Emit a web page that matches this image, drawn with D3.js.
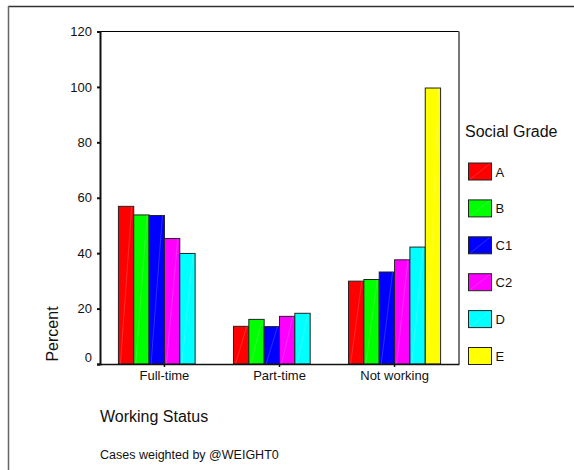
<!DOCTYPE html>
<html>
<head>
<meta charset="utf-8">
<script src="https://cdn.jsdelivr.net/npm/d3@7/dist/d3.min.js"></script>
<style>
  html, body { margin: 0; padding: 0; background: #fff; }
  svg { display: block; }
  text { font-family: Arial, "Liberation Sans", sans-serif; fill: #111; }
</style>
</head>
<body>
<script>
// Working status by social grade (column percentages)
const categories = ["Full-time", "Part-time", "Not working"];
const grades = ["A", "B", "C1", "C2", "D", "E"];
const gradeColors = ["#ff0000", "#00ff00", "#0000ff", "#ff00ff", "#00ffff", "#ffff00"];
const valuesA  = [56.9, 13.6, 29.9];
const valuesB  = [53.8, 16.1, 30.5];
const valuesC1 = [53.6, 13.5, 33.2];
const valuesC2 = [45.3, 17.2, 37.6];
const valuesD  = [39.9, 18.3, 42.2];
const valuesE  = [0, 0, 99.6];
const yTicks = [0, 20, 40, 60, 80, 100, 120];

const seriesValues = [valuesA, valuesB, valuesC1, valuesC2, valuesD, valuesE];
const rows = [];
categories.forEach((c, ci) => {
  grades.forEach((g, gi) => rows.push({ cat: c, grade: g, value: seriesValues[gi][ci], color: gradeColors[gi] }));
});

const W = 574, H = 470;
const plot = { left: 100, right: 459, top: 31.5, bottom: 364 };

const svg = d3.select("body").append("svg").attr("width", W).attr("height", H);

// outer frame: top and left edges only
svg.append("line").attr("x1", 8).attr("x2", W).attr("y1", 6.5).attr("y2", 6.5)
  .attr("stroke", "#333").attr("stroke-width", 1.5);
svg.append("line").attr("x1", 8.5).attr("x2", 8.5).attr("y1", 6).attr("y2", H)
  .attr("stroke", "#666").attr("stroke-width", 1.5);

const x = d3.scaleBand().domain(categories).range([plot.left, plot.right])
  .paddingInner(0.2).paddingOuter(0.16);
const xs = d3.scaleBand().domain(grades).range([0, x.bandwidth()]);
const y = d3.scaleLinear().domain([0, 120]).range([plot.bottom, plot.top]);

// plot frame: top and right edges
svg.append("line").attr("x1", plot.left).attr("x2", plot.right).attr("y1", plot.top).attr("y2", plot.top)
  .attr("stroke", "#000").attr("stroke-width", 1);
svg.append("line").attr("x1", plot.right).attr("x2", plot.right).attr("y1", plot.top).attr("y2", plot.bottom)
  .attr("stroke", "#777").attr("stroke-width", 2);

// bars
const bars = svg.append("g").selectAll("g").data(rows).join("g");
bars.append("rect")
  .attr("x", d => x(d.cat) + xs(d.grade))
  .attr("y", d => y(d.value))
  .attr("width", xs.bandwidth())
  .attr("height", d => y(0) - y(d.value))
  .attr("fill", d => d.color)
  .attr("stroke", "#222").attr("stroke-width", 1);
// faint diagonal sheen on each bar
bars.filter(d => d.value > 0).append("line")
  .attr("x1", d => x(d.cat) + xs(d.grade) + 2)
  .attr("y1", y(0))
  .attr("x2", d => x(d.cat) + xs(d.grade) + xs.bandwidth() - 2)
  .attr("y2", d => y(d.value))
  .attr("stroke", "rgba(255,255,255,0.22)").attr("stroke-width", 0.8);

// y axis
const yAxis = svg.append("g").attr("transform", `translate(${plot.left},0)`)
  .call(d3.axisLeft(y).tickValues(yTicks).tickSize(3).tickPadding(5));
yAxis.select(".domain").attr("stroke", "#111").attr("stroke-width", 2);
yAxis.selectAll(".tick line").attr("stroke", "#111").attr("stroke-width", 2);
yAxis.selectAll("text").style("font-size", "13px").attr("fill", "#111");
// the zero label sits just above the baseline
yAxis.selectAll(".tick").filter(d => d === 0).select("text").attr("dy", "-0.22em");

// x axis
const xAxis = svg.append("g").attr("transform", `translate(0,${plot.bottom})`)
  .call(d3.axisBottom(x).tickSize(3).tickPadding(4).tickSizeOuter(0));
xAxis.select(".domain").attr("stroke", "#111").attr("stroke-width", 1.5);
xAxis.selectAll(".tick line").attr("stroke", "#111").attr("stroke-width", 1.5);
xAxis.selectAll("text").style("font-size", "13px").attr("fill", "#111");

// axis titles
svg.append("text").attr("transform", "translate(58,334) rotate(-90)")
  .attr("text-anchor", "middle").style("font-size", "16px").text("Percent");
svg.append("text").attr("x", 100).attr("y", 422).style("font-size", "16px").text("Working Status");
svg.append("text").attr("x", 100).attr("y", 459).style("font-size", "12.5px").text("Cases weighted by @WEIGHT0");

// legend
const legend = svg.append("g");
legend.append("text").attr("x", 465).attr("y", 137).style("font-size", "16px").text("Social Grade");
const items = legend.selectAll("g.item").data(grades).join("g").attr("class", "item")
  .attr("transform", (d, i) => `translate(468.5,${163 + i * 36.9})`);
items.append("rect").attr("width", 23).attr("height", 17)
  .attr("fill", (d, i) => gradeColors[i]).attr("stroke", "#222").attr("stroke-width", 1);
items.append("line").attr("x1", 2).attr("y1", 16).attr("x2", 21).attr("y2", 1)
  .attr("stroke", "rgba(255,255,255,0.22)").attr("stroke-width", 0.8);
items.append("text").attr("x", 27).attr("y", 13.5).style("font-size", "13px").text(d => d);
</script>
</body>
</html>
